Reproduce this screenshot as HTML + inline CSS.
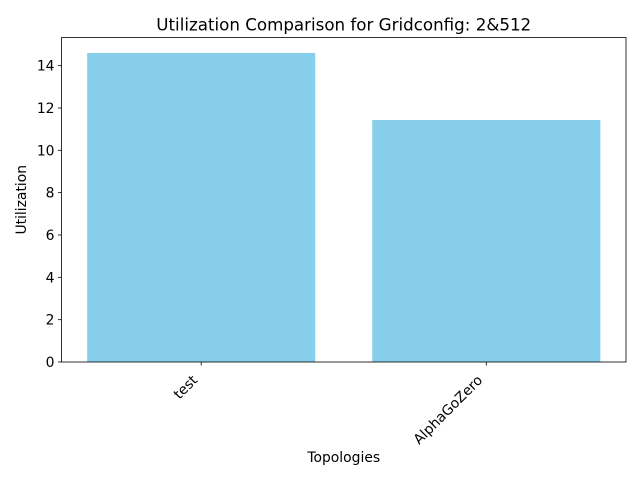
<!DOCTYPE html>
<html><head><meta charset="utf-8"><style>body{margin:0;background:#fff}svg{font-family:"DejaVu Sans","Liberation Sans",sans-serif}</style></head>
<body>
<svg width="640" height="480" xmlns="http://www.w3.org/2000/svg">
<g id="plot"></g>
</svg>
<script>
const categories = ["test", "AlphaGoZero"];
const values = [14.6, 11.43];
const yTicks = [0, 2, 4, 6, 8, 10, 12, 14];
const L=61.5,R=626,T=37.5,B=362, ymax=Math.max(...values)*1.05;
const xmin=-0.49,xmax=1.49;
const sx=v=>L+(v-xmin)/(xmax-xmin)*(R-L);
const sy=v=>B-v/ymax*(B-T);
const g=document.getElementById('plot');
const NS='http://www.w3.org/2000/svg';
function mk(t,a,txt){const e=document.createElementNS(NS,t);for(const k in a)e.setAttribute(k,a[k]);if(txt!=null)e.textContent=txt;g.appendChild(e);return e;}
categories.forEach((c,i)=>{
 const x0=sx(i-0.4),x1=sx(i+0.4);
 const b=mk('rect',{x:x0,y:sy(values[i]),width:x1-x0,height:B-sy(values[i]),fill:'#87ceeb'});
 
 
 const cx=sx(i);
 mk('line',{x1:cx,x2:cx,y1:B,y2:B+3.5,stroke:'#000','stroke-width':0.8});
 const ax=cx-3, ay=B+19;
 const t=mk('text',{x:ax,y:ay,'font-size':13.9,'text-anchor':'end',transform:`rotate(-45 ${ax} ${ay})`},c);
 
 
});
yTicks.forEach(v=>{
 const y=sy(v);
 mk('line',{x1:L-3.5,x2:L,y1:y,y2:y,stroke:'#000','stroke-width':0.8});
 const t=mk('text',{x:L-7,y:y+5,'font-size':13.9,'text-anchor':'end'},v);
 
 
});
const f=mk('rect',{x:L,y:T,width:R-L,height:B-T,fill:'none',stroke:'#000','stroke-width':0.8});


const ti=mk('text',{x:(L+R)/2,y:T-7,'font-size':16.7,'text-anchor':'middle'},'Utilization Comparison for Gridconfig: 2&512');


const xl=mk('text',{x:(L+R)/2,y:462,'font-size':13.9,'text-anchor':'middle'},'Topologies');


const yl=mk('text',{x:26,y:(T+B)/2,'font-size':13.9,'text-anchor':'middle',transform:`rotate(-90 26 ${(T+B)/2})`},'Utilization');


</script>
</body></html>
